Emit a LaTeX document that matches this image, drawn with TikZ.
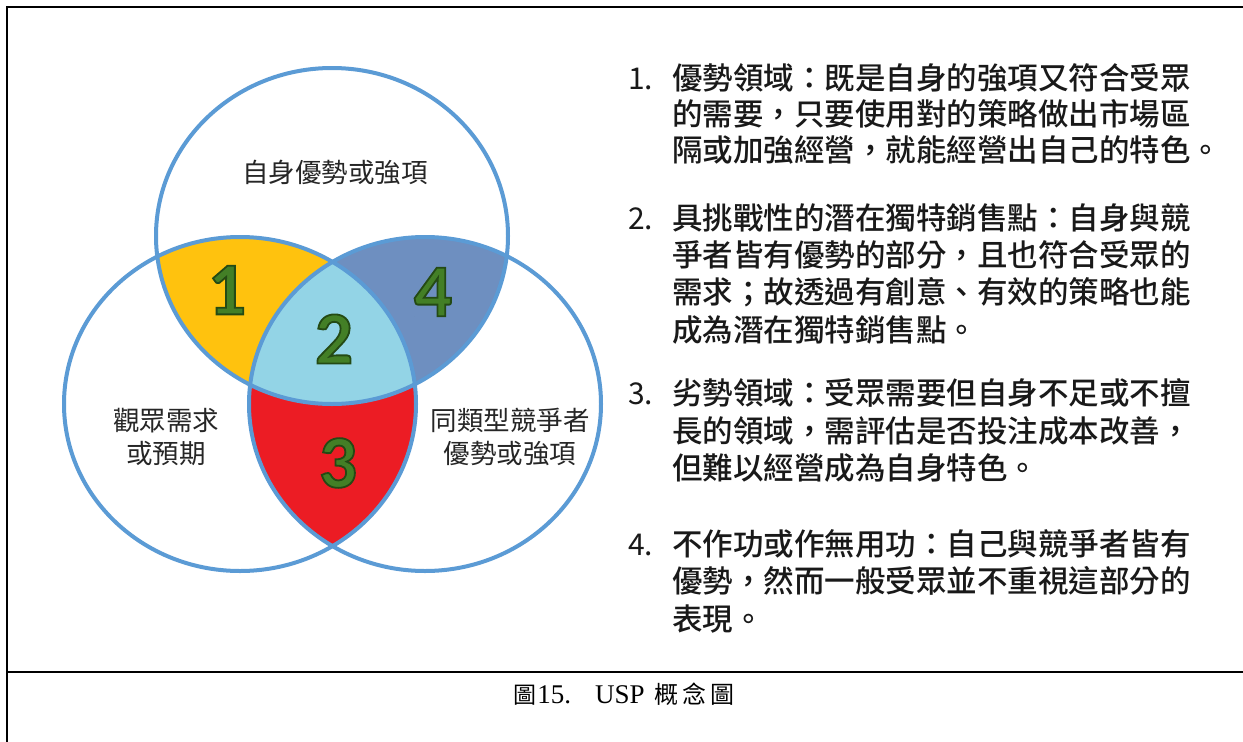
\documentclass[tikz,border=0pt]{standalone}
\usepackage{fontspec}
\setmainfont{Liberation Serif}
\newfontfamily\cjk{Noto Sans CJK TC}
\newfontfamily\cjkmed{Noto Sans CJK TC}[UprightFont={* Medium}]
\newfontfamily\numfont{Carlito}
\definecolor{vennline}{HTML}{5B9BD5}
\definecolor{regyellow}{HTML}{FFC20E}
\definecolor{regblue}{HTML}{93D4E6}
\definecolor{regsteel}{HTML}{6E8FC0}
\definecolor{regred}{HTML}{EC1C24}
\definecolor{numgreen}{HTML}{437F26}
\newcommand\outlinedtext[1]{\special{pdf:literal direct 2 Tr 1.8 w 0.14 0.29 0.08 RG}#1\special{pdf:literal direct 0 Tr}}
\def\topE{(332,236) ellipse [x radius=176pt, y radius=168pt]}
\def\leftE{(240,404) ellipse [x radius=176pt, y radius=167pt]}
\def\rightE{(425,404) ellipse [x radius=176pt, y radius=167pt]}
\tikzset{
  venn/.style={draw=vennline, line width=4pt},
  bignum/.style={font=\numfont\bfseries\fontsize{75}{75}\selectfont, text=numgreen},
  circlabel/.style={font=\cjk\fontsize{26.5}{33}\selectfont, align=center, text=black!85},
  itemnum/.style={font=\cjk\fontsize{30}{30}\selectfont, anchor=base west, text=black!90},
  itemline/.style={font=\cjkmed\fontsize{30.5}{30.5}\selectfont, anchor=base west, text=black!90},
  frameline/.style={line width=2pt},
}
\begin{document}
\begin{tikzpicture}[x=1pt,y=-1pt, every node/.style={inner sep=0pt, outer sep=0pt}]
\useasboundingbox (0,0) rectangle (1243,742);
\fill[white] (0,0) rectangle (1243,742);
% frame
\draw[frameline] (7,742) -- (7,7) -- (1243,7);
\draw[frameline] (7,672) -- (1243,672);
% regions
\begin{scope}
  \clip \topE;
  \fill[regyellow] \leftE;
  \fill[regsteel] \rightE;
\end{scope}
\begin{scope}
  \clip \leftE;
  \fill[regred] \rightE;
\end{scope}
\begin{scope}
  \clip \topE;
  \clip \leftE;
  \fill[regblue] \rightE;
\end{scope}
\draw[venn] \topE;
\draw[venn] \leftE;
\draw[venn] \rightE;
% numbers
\node[bignum] (n1) at (227,290) {\outlinedtext{1}};
\node[bignum] (n2) at (334,339) {\outlinedtext{2}};
\node[bignum] (n3) at (338,463) {\outlinedtext{3}};
\node[bignum] (n4) at (433,292) {\outlinedtext{4}};
% circle labels
\node[circlabel] (ltop) at (335,172) {自身優勢或強項};
\node[circlabel] (lleft) at (166,437) {觀眾需求\\或預期};
\node[circlabel] (lright) at (510,437) {同類型競爭者\\優勢或強項};
% item list
\node[itemnum] (i1) at (628,89) {1.};
\node[itemline] (i1a) at (672,89) {優勢領域：既是自身的強項又符合受眾};
\node[itemline] (i1b) at (672,125) {的需要，只要使用對的策略做出市場區};
\node[itemline] (i1c) at (672,161) {隔或加強經營，就能經營出自己的特色。};
\node[itemnum] (i2) at (628,229) {2.};
\node[itemline] (i2a) at (672,229) {具挑戰性的潛在獨特銷售點：自身與競};
\node[itemline] (i2b) at (672,266) {爭者皆有優勢的部分，且也符合受眾的};
\node[itemline] (i2c) at (672,303) {需求；故透過有創意、有效的策略也能};
\node[itemline] (i2d) at (672,341) {成為潛在獨特銷售點。};
\node[itemnum] (i3) at (628,404) {3.};
\node[itemline] (i3a) at (672,404) {劣勢領域：受眾需要但自身不足或不擅};
\node[itemline] (i3b) at (672,442) {長的領域，需評估是否投注成本改善，};
\node[itemline] (i3c) at (672,479) {但難以經營成為自身特色。};
\node[itemnum] (i4) at (628,555) {4.};
\node[itemline] (i4a) at (672,555) {不作功或作無用功：自己與競爭者皆有};
\node[itemline] (i4b) at (672,592) {優勢，然而一般受眾並不重視這部分的};
\node[itemline] (i4c) at (672,630) {表現。};
% caption
\node[font=\fontsize{27}{27}\selectfont] (cap) at (624,694) {{\cjk\fontsize{23}{23}\selectfont 圖}\hspace{1pt}15.\hspace{24pt}USP\hspace{10pt}{\cjk\fontsize{24}{24}\selectfont 概\hspace{4pt}念\hspace{4pt}圖}};
\end{tikzpicture}
\end{document}
